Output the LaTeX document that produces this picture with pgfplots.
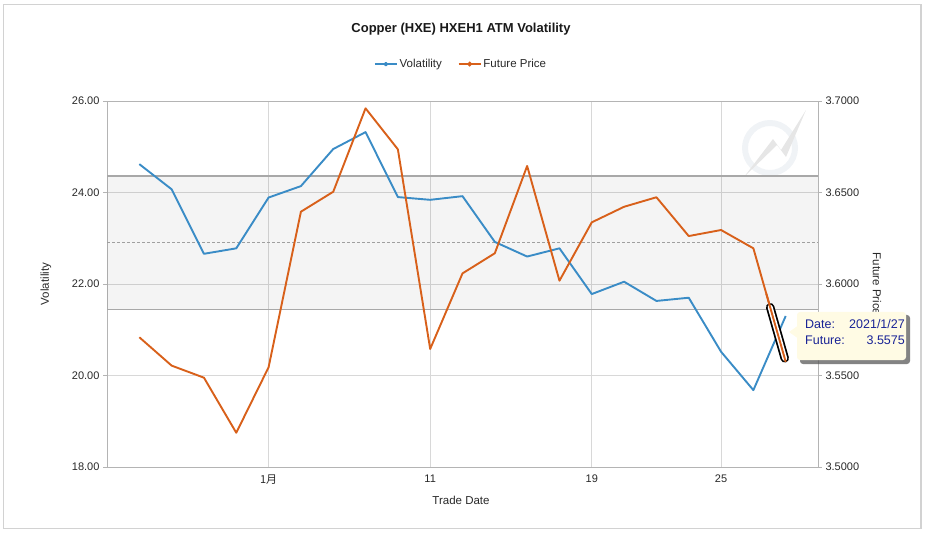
\documentclass[border=0pt]{standalone}
\usepackage{pgfplots}
\usepackage{pgfplotstable}
\pgfplotsset{compat=1.18}
\usepackage{fontspec}
\setmainfont{Liberation Sans}
\newfontfamily\cjk{Noto Sans CJK SC}
\definecolor{vblue}{RGB}{58,140,198}
\definecolor{forange}{RGB}{216,96,26}
\definecolor{gridc}{RGB}{216,216,216}
\definecolor{axc}{RGB}{180,180,180}
\definecolor{bandedge}{RGB}{168,168,168}
\definecolor{tipbg}{RGB}{255,251,228}
\definecolor{tiptext}{RGB}{25,35,150}
\definecolor{textc}{RGB}{40,40,40}
\definecolor{logoc}{RGB}{240,243,246}
\definecolor{boltc}{RGB}{230,230,230}

\pgfplotstableread{
idx vol price
0 24.62 3.5709
1 24.07 3.5554
2 22.66 3.5488
3 22.78 3.5187
4 23.89 3.5545
5 24.14 3.6395
6 24.95 3.6504
7 25.32 3.6960
8 23.90 3.6736
9 23.84 3.5645
10 23.92 3.6058
11 22.92 3.6168
12 22.60 3.6645
13 22.78 3.6018
14 21.78 3.6337
15 22.05 3.6422
16 21.63 3.6474
17 21.70 3.6262
18 20.52 3.6295
19 19.68 3.6195
20 21.30 3.5575
}\data

\begin{document}
\begin{tikzpicture}[x=1pt,y=1pt]
\path[use as bounding box] (0,0) rectangle (925,533);
\draw[gray!35, line width=1.6pt] (3.5,4.5) rectangle (921,528.5);

% faint watermark logo
\begin{scope}
\clip (720,357) rectangle (817,431);
\draw[logoc, line width=6pt] (770,385) circle (25);
\fill[boltc] (744,356) -- (773,394) -- (781,383) -- (806,423) -- (786,376) -- (777,388) -- cycle;
\end{scope}

\pgfplotsset{
  common/.style={
    at={(107pt,66pt)}, anchor=south west, scale only axis,
    width=711pt, height=366pt, xmin=-1, xmax=21,
    axis line style={axc, line width=0.9pt},
    tick style={axc, line width=0.8pt},
    tick align=outside, major tick length=4pt,
    /pgf/number format/assume math mode=true,
    ticklabel style={font=\fontsize{11}{13}\selectfont, text=textc},
  }
}

\begin{axis}[common,
  ymin=18, ymax=26, ytick={18,20,22,24,26},
  xtick={4,9,14,18}, xticklabels={{\cjk 1月},11,19,25},
  xtick pos=bottom, ytick pos=left,
  x tick style={draw=none},
  grid=major, major grid style={gridc, line width=0.8pt},
  y tick label style={/pgf/number format/.cd, fixed, fixed zerofill, precision=2},
  legend style={at={(0.498,1.101)}, anchor=center, draw=none, fill=none,
    legend columns=2, font=\fontsize{11.5}{13}\selectfont, text=textc,
    /tikz/every even column/.append style={column sep=14pt}},
  legend image code/.code={\draw[#1, line width=1.6pt] (0pt,0pt) -- (22pt,0pt);
     \fill[#1] (11pt,0pt) circle (1.3pt);},
]
\addplot[draw=none, fill=black, fill opacity=0.045, forget plot]
  coordinates {(-1,21.45) (21,21.45) (21,24.36) (-1,24.36)};
\addplot[bandedge, line width=1.1pt, forget plot] coordinates {(-1,24.36) (21,24.36)};
\addplot[bandedge, line width=1.1pt, forget plot] coordinates {(-1,21.45) (21,21.45)};
\addplot[gray!75, line width=0.7pt, dash pattern=on 3pt off 2pt, forget plot]
  coordinates {(-1,22.91) (21,22.91)};
\addplot[vblue, line width=1.9pt, line join=round] table[x=idx, y=vol] {\data};
\addlegendentry{Volatility}
\addlegendimage{forange, line width=1.9pt}
\addlegendentry{Future Price}
\end{axis}

\begin{axis}[common,
  ymin=3.5, ymax=3.7, ytick={3.50,3.55,3.60,3.65,3.70},
  axis x line=none, axis y line*=right,
  y tick label style={/pgf/number format/.cd, fixed, fixed zerofill, precision=4},
]
\addplot[forange, line width=1.9pt, line join=round] table[x=idx, y=price] {\data};
\addplot[black, line width=8.5pt, line cap=round] coordinates {(19.52,3.5873) (19.97,3.5594)};
\addplot[white, line width=5pt, line cap=round] coordinates {(19.52,3.5873) (19.97,3.5594)};
\addplot[forange, line width=1.9pt] coordinates {(19.4,3.5947) (20,3.5575)};
\end{axis}

% titles and labels
\node[font=\bfseries\fontsize{13}{15}\selectfont, text=black!90] at (461,504) {Copper (HXE) HXEH1 ATM Volatility};
\node[font=\fontsize{11.5}{13}\selectfont, text=textc, rotate=90] at (46,249) {Volatility};
\node[font=\fontsize{11.5}{13}\selectfont, text=textc] at (461,33) {Trade Date};
\node[font=\fontsize{11.5}{13}\selectfont, text=textc, rotate=-90] at (877,249) {Future Price};

% tooltip
\fill[black!65, opacity=0.75, rounded corners=3pt] (800,169) rectangle (910,218);
\fill[tipbg, rounded corners=3pt] (797,173) rectangle (906,221);
\fill[tipbg] (797.5,207) -- (789,201) -- (797.5,195) -- cycle;
\node[font=\fontsize{12.5}{14}\selectfont, text=tiptext, anchor=west, inner sep=0pt] at (805,209) {Date:};
\node[font=\fontsize{12.5}{14}\selectfont, text=tiptext, anchor=east, inner sep=0pt] at (905,209) {2021/1/27};
\node[font=\fontsize{12.5}{14}\selectfont, text=tiptext, anchor=west, inner sep=0pt] at (805,193) {Future:};
\node[font=\fontsize{12.5}{14}\selectfont, text=tiptext, anchor=east, inner sep=0pt] at (905,193) {3.5575};
\end{tikzpicture}
\end{document}
